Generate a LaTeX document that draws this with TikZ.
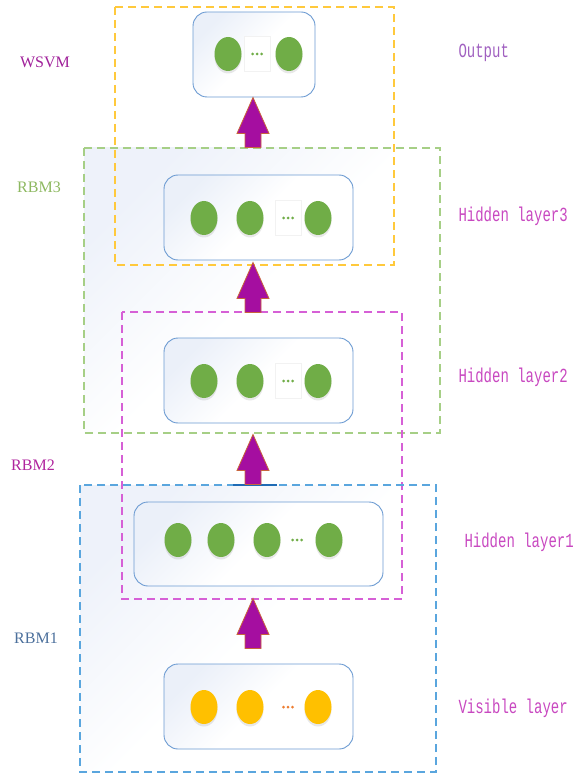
\documentclass[tikz,border=0pt]{standalone}
\usepackage{fontspec}
\setmainfont{Liberation Serif}
\newfontfamily\labelmono[FakeStretch=0.7]{Liberation Mono}
\usetikzlibrary{shapes.geometric,shadows,calc}

\definecolor{boxblue}{HTML}{6C9BD2}
\definecolor{leafgreen}{HTML}{70AD47}
\definecolor{sunyellow}{HTML}{FFC000}
\definecolor{dotorange}{HTML}{ED7D31}
\definecolor{arrowfill}{HTML}{A50EA0}
\definecolor{arrowedge}{HTML}{C8643C}
\definecolor{frameyellow}{HTML}{FFC93C}
\definecolor{framegreen}{HTML}{A6CF86}
\definecolor{framepink}{HTML}{D660D6}
\definecolor{frameblue}{HTML}{5AA6DE}
\definecolor{framedeep}{HTML}{1F6BB5}
\definecolor{tintblue}{HTML}{EBF0F9}
\definecolor{tintframe}{HTML}{EEF2FA}
\definecolor{txtwsvm}{HTML}{A0209A}
\definecolor{txtgreen}{HTML}{8DB860}
\definecolor{txtrbmtwo}{HTML}{B0259E}
\definecolor{txtblue}{HTML}{4C709C}
\definecolor{txtlavender}{HTML}{A060C0}
\definecolor{txtpink}{HTML}{C848C0}

\tikzset{
  frame/.style={dashed, dash pattern=on 8pt off 5pt, line width=1.3pt},
  layerbox/.style={draw=boxblue, line width=0.9pt, rounded corners=14pt,
    top color=tintblue, bottom color=white, middle color=white, shading angle=45,
    minimum height=85pt, inner sep=0pt},
  unit/.style={ellipse, minimum width=27pt, minimum height=34pt, inner sep=0pt,
    drop shadow={opacity=0.18, shadow xshift=0pt, shadow yshift=-2.5pt}},
  hunit/.style={unit, fill=leafgreen},
  vunit/.style={unit, fill=sunyellow},
  dotbox/.style={minimum width=26pt, minimum height=35pt, inner sep=0pt},
  whitebox/.style={dotbox, fill=white, draw=black!5},
  leftlabel/.style={font=\fontsize{16}{18}\selectfont},
  rightlabel/.style={anchor=west, font=\labelmono\fontsize{20}{22}\selectfont},
  uparrow/.pic={
    \draw[fill=arrowfill, draw=arrowedge, line width=0.8pt, line join=miter]
      (0,0) -- (16,36) -- (8,36) -- (8,50) -- (-8,50) -- (-8,36) -- (-16,36) -- cycle;
  }
}

\newcommand{\dotrow}[2]{%
  \foreach \dx in {-4.5,0,4.5} \fill[#2] ($(#1)+(\dx,0)$) circle (1.5pt);}

\begin{document}
\begin{tikzpicture}[x=1pt, y=-1pt]
  \useasboundingbox (0,0) rectangle (574,775);

  % tinted backgrounds of the RBM3 and RBM1 frames
  \shade[top color=tintframe, bottom color=white, middle color=white, shading angle=45] (84,148) rectangle (440,433);
  \shade[top color=tintframe, bottom color=white, middle color=white, shading angle=45] (80,485) rectangle (436,772);

  % dashed frames
  \draw[frame, draw=frameyellow] (115,7) rectangle (394,265);
  \draw[frame, draw=framegreen] (84,148) rectangle (440,433);
  \draw[frame, draw=framepink] (122,312) rectangle (402,599);
  \draw[frame, draw=frameblue] (80,485) rectangle (436,772);
  \draw[line width=1.5pt, framedeep] (233,485) -- (277,485);

  % layers
  \node[layerbox, minimum width=122pt] (out) at (254,54.5) {};
  \node[layerbox, minimum width=189pt] (hid3) at (258.5,217.5) {};
  \node[layerbox, minimum width=189pt] (hid2) at (258.5,380.5) {};
  \node[layerbox, minimum width=249pt, minimum height=84pt] (hid1) at (258.5,544) {};
  \node[layerbox, minimum width=189pt] (vis) at (258.5,706.5) {};

  % output units
  \node[hunit] (o1) at (228,54) {};
  \node[whitebox] (od) at (257,54) {};
  \node[hunit] (o2) at (289,54) {};
  \dotrow{od}{leafgreen}

  % hidden layer 3
  \node[hunit] (h31) at (204,218) {};
  \node[hunit] (h32) at (250,218) {};
  \node[whitebox] (h3d) at (288,218) {};
  \node[hunit] (h33) at (318,218) {};
  \dotrow{h3d}{leafgreen}

  % hidden layer 2
  \node[hunit] (h21) at (204,381) {};
  \node[hunit] (h22) at (250,381) {};
  \node[whitebox] (h2d) at (288,381) {};
  \node[hunit] (h23) at (318,381) {};
  \dotrow{h2d}{leafgreen}

  % hidden layer 1
  \node[hunit] (h11) at (178,540) {};
  \node[hunit] (h12) at (221,540) {};
  \node[hunit] (h13) at (267,540) {};
  \node[dotbox] (h1d) at (297,540) {};
  \node[hunit] (h14) at (329,540) {};
  \dotrow{h1d}{leafgreen}

  % visible layer
  \node[vunit] (v1) at (204,707) {};
  \node[vunit] (v2) at (250,707) {};
  \node[dotbox] (vd) at (288,707) {};
  \node[vunit] (v3) at (318,707) {};
  \dotrow{vd}{dotorange}

  % upward block arrows between layers
  \pic at ($(out.south)+(-1,0)$) {uparrow};
  \pic at ($(hid3.south)+(-5.5,2)$) {uparrow};
  \pic at ($(hid2.south)+(-5.5,11)$) {uparrow};
  \pic at ($(hid1.south)+(-5.5,12)$) {uparrow};

  % model labels
  \node[leftlabel, text=txtwsvm] (lw) at (45,62) {WSVM};
  \node[leftlabel, text=txtgreen] (lr3) at (39,187) {RBM3};
  \node[leftlabel, text=txtrbmtwo] (lr2) at (33,465) {RBM2};
  \node[leftlabel, text=txtblue] (lr1) at (36,638) {RBM1};

  % layer labels
  \node[rightlabel, text=txtlavender] (lo) at (455,53) {Output};
  \node[rightlabel, text=txtpink] (lh3) at (455,216) {Hidden layer3};
  \node[rightlabel, text=txtpink] (lh2) at (455,377) {Hidden layer2};
  \node[rightlabel, text=txtpink] (lh1) at (461,542) {Hidden layer1};
  \node[rightlabel, text=txtpink] (lv) at (455,708) {Visible layer};
\end{tikzpicture}
\end{document}
